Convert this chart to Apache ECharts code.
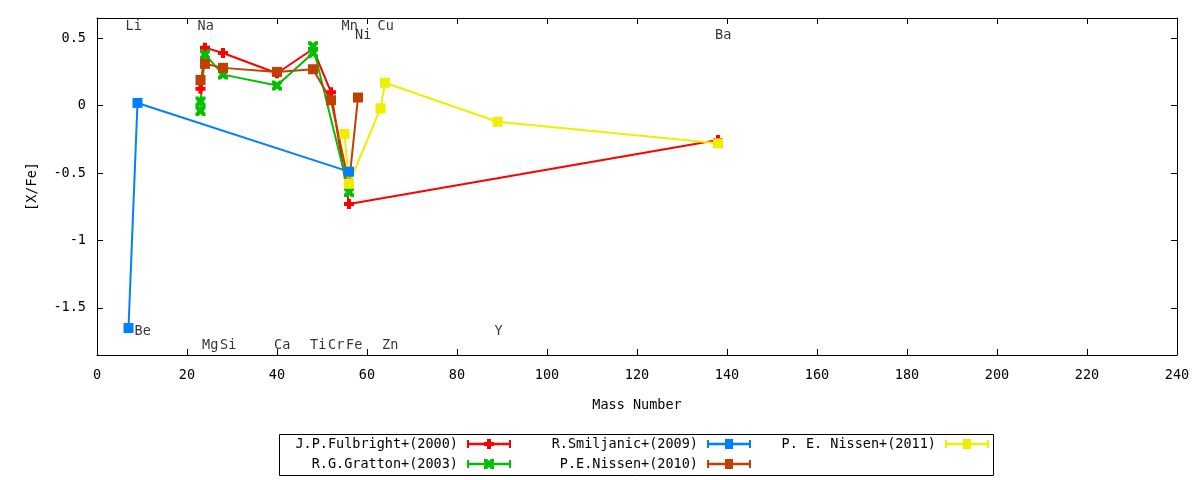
<!DOCTYPE html>
<html>
<head>
<meta charset="utf-8">
<script src="https://cdn.jsdelivr.net/npm/echarts@6/dist/echarts.min.js"></script>
<style>
html, body { margin: 0; background: #fff; }
#chart { width: 1200px; height: 480px; }
</style>
</head>
<body>
<div id="chart"></div>
<script>
var FONT = 'DejaVu Sans Mono';
var FS = 13.5;

// [X/Fe] against mass number, one pair of arrays per study
var fulbrightMass = [23, 24, 28, 40, 48, 52, 56, 138];
var fulbrightXFe  = [0.125, 0.43, 0.39, 0.24, 0.42, 0.10, -0.73, -0.255];

var grattonMass = [23, 23, 24, 28, 40, 48, 48, 56];
var grattonXFe  = [-0.04, 0.03, 0.38, 0.23, 0.15, 0.39, 0.44, -0.64];

var smiljanicMass = [7, 9, 56];
var smiljanicXFe  = [-1.65, 0.02, -0.49];

var nissen10Mass = [23, 24, 28, 40, 48, 52, 56, 58];
var nissen10XFe  = [0.19, 0.31, 0.28, 0.25, 0.27, 0.04, -0.58, 0.06];

var nissen11Mass = [55, 56, 63, 64, 89, 138];
var nissen11XFe  = [-0.21, -0.58, -0.02, 0.17, -0.12, -0.28];

// element names written inside the plot
var labelNames = ['Li', 'Na', 'Mn', 'Cu', 'Ni', 'Ba', 'Be', 'Y', 'Mg', 'Si', 'Ca', 'Ti', 'Cr', 'Fe', 'Zn'];
var labelMass  = [7, 23, 55, 63, 58, 138, 9, 89, 24, 28, 40, 48, 52, 56, 64];
var labelY     = [0.59, 0.59, 0.59, 0.59, 0.52, 0.52, -1.675, -1.675,
                  -1.778, -1.778, -1.778, -1.778, -1.778, -1.778, -1.778];

var yTicks = [-1.5, -1, -0.5, 0, 0.5];

var names = ['J.P.Fulbright+(2000)', 'R.G.Gratton+(2003)', 'R.Smiljanic+(2009)',
             'P.E.Nissen+(2010)', 'P. E. Nissen+(2011)'];
var colors = ['#ff0000', '#00c000', '#0080ff', '#c04000', '#eeee00'];

var SYM_PLUS = 'path://M3 0h4v3h3v4h-3v3h-4v-3h-3v-4h3z';
var SYM_X = 'path://M0 0h3l2 2l2-2h3v3l-2 2l2 2v3h-3l-2-2l-2 2h-3v-3l2-2l-2-2z';

var BAR = 'M0 1h2v2.8h40v-2.8h2v8h-2v-2.8h-40v2.8h-2z';
var ICON_PLUS = 'path://' + BAR + 'M20 0h4v10h-4zM17 3h10v4h-10z';
var ICON_X = 'path://' + BAR + 'M17 0h3l2 2l2-2h3v3l-2 2l2 2v3h-3l-2-2l-2 2h-3v-3l2-2l-2-2z';
var ICON_SQ = 'path://' + BAR + 'M18 0h8v10h-8z';

function pairs(xs, ys) {
	return xs.map((x, i) => [x, ys[i]]);
}

function lineSeries(idx, xs, ys, symbol, size) {
	return {
		name: names[idx],
		type: 'line',
		data: pairs(xs, ys),
		color: colors[idx],
		symbol: symbol,
		symbolSize: size,
		showSymbol: true,
		lineStyle: { width: 2, color: colors[idx] },
		itemStyle: { color: colors[idx], opacity: 1 },
		emphasis: { disabled: true }
	};
}

function legendFor(idx, icon, right, top) {
	return {
		data: [{ name: names[idx], icon: icon }],
		right: right,
		top: top,
		align: 'right',
		itemWidth: 44,
		itemHeight: 10,
		padding: 0,
		selectedMode: false,
		textStyle: { fontFamily: FONT, fontSize: FS, color: '#000', lineHeight: 14, padding: [0, 4, 0, 0] }
	};
}

var axisCommon = {
	axisLine: { onZero: false, lineStyle: { color: '#000', width: 1 } },
	axisTick: { inside: true, length: 6, lineStyle: { color: '#000' } },
	splitLine: { show: false }
};

var chart = echarts.init(document.getElementById('chart'));
chart.setOption({
	animation: false,
	backgroundColor: '#fff',
	grid: { left: 97, right: 23, top: 18, bottom: 125 },
	xAxis: [
		Object.assign({}, axisCommon, {
			type: 'value', min: 0, max: 240, interval: 20, position: 'bottom',
			name: 'Mass Number', nameLocation: 'middle', nameGap: 43,
			nameTextStyle: { fontFamily: FONT, fontSize: FS, color: '#000' },
			axisLabel: { fontFamily: FONT, fontSize: FS, color: '#000', margin: 13 }
		}),
		Object.assign({}, axisCommon, {
			type: 'value', min: 0, max: 240, interval: 20, position: 'top',
			axisLabel: { show: false }
		})
	],
	yAxis: [
		Object.assign({}, axisCommon, {
			type: 'value', min: -1.85, max: 0.65, position: 'left',
			name: '[X/Fe]', nameLocation: 'middle', nameGap: 58, nameRotate: 90,
			nameTextStyle: { fontFamily: FONT, fontSize: FS, color: '#000' },
			axisTick: { inside: true, length: 6, lineStyle: { color: '#000' }, customValues: yTicks },
			axisLabel: { fontFamily: FONT, fontSize: FS, color: '#000', margin: 11, customValues: yTicks }
		}),
		Object.assign({}, axisCommon, {
			type: 'value', min: -1.85, max: 0.65, position: 'right',
			axisTick: { inside: true, length: 6, lineStyle: { color: '#000' }, customValues: yTicks },
			axisLabel: { show: false, customValues: yTicks }
		})
	],
	legend: [
		legendFor(0, ICON_PLUS, 689, 437),
		legendFor(1, ICON_X, 689, 457),
		legendFor(2, ICON_SQ, 449, 437),
		legendFor(3, ICON_SQ, 449, 457),
		legendFor(4, ICON_SQ, 211, 437)
	],
	graphic: [{
		type: 'rect',
		shape: { x: 279.5, y: 434.5, width: 714, height: 41 },
		style: { fill: 'none', stroke: '#000', lineWidth: 1 },
		silent: true
	}],
	series: [
		lineSeries(0, fulbrightMass, fulbrightXFe, SYM_PLUS, 10),
		lineSeries(1, grattonMass, grattonXFe, SYM_X, 10),
		lineSeries(2, smiljanicMass, smiljanicXFe, 'rect', 10),
		lineSeries(3, nissen10Mass, nissen10XFe, 'rect', 10),
		lineSeries(4, nissen11Mass, nissen11XFe, 'rect', 10),
		{
			name: 'elements',
			type: 'scatter',
			symbolSize: 0,
			silent: true,
			data: labelNames.map((n, i) => ({ name: n, value: [labelMass[i], labelY[i]] })),
			label: {
				show: true,
				position: 'inside',
				align: 'left',
				verticalAlign: 'middle',
				offset: [-3, 0],
				formatter: p => p.name,
				fontFamily: FONT,
				fontSize: FS,
				color: '#000'
			}
		}
	]
});
</script>
</body>
</html>
